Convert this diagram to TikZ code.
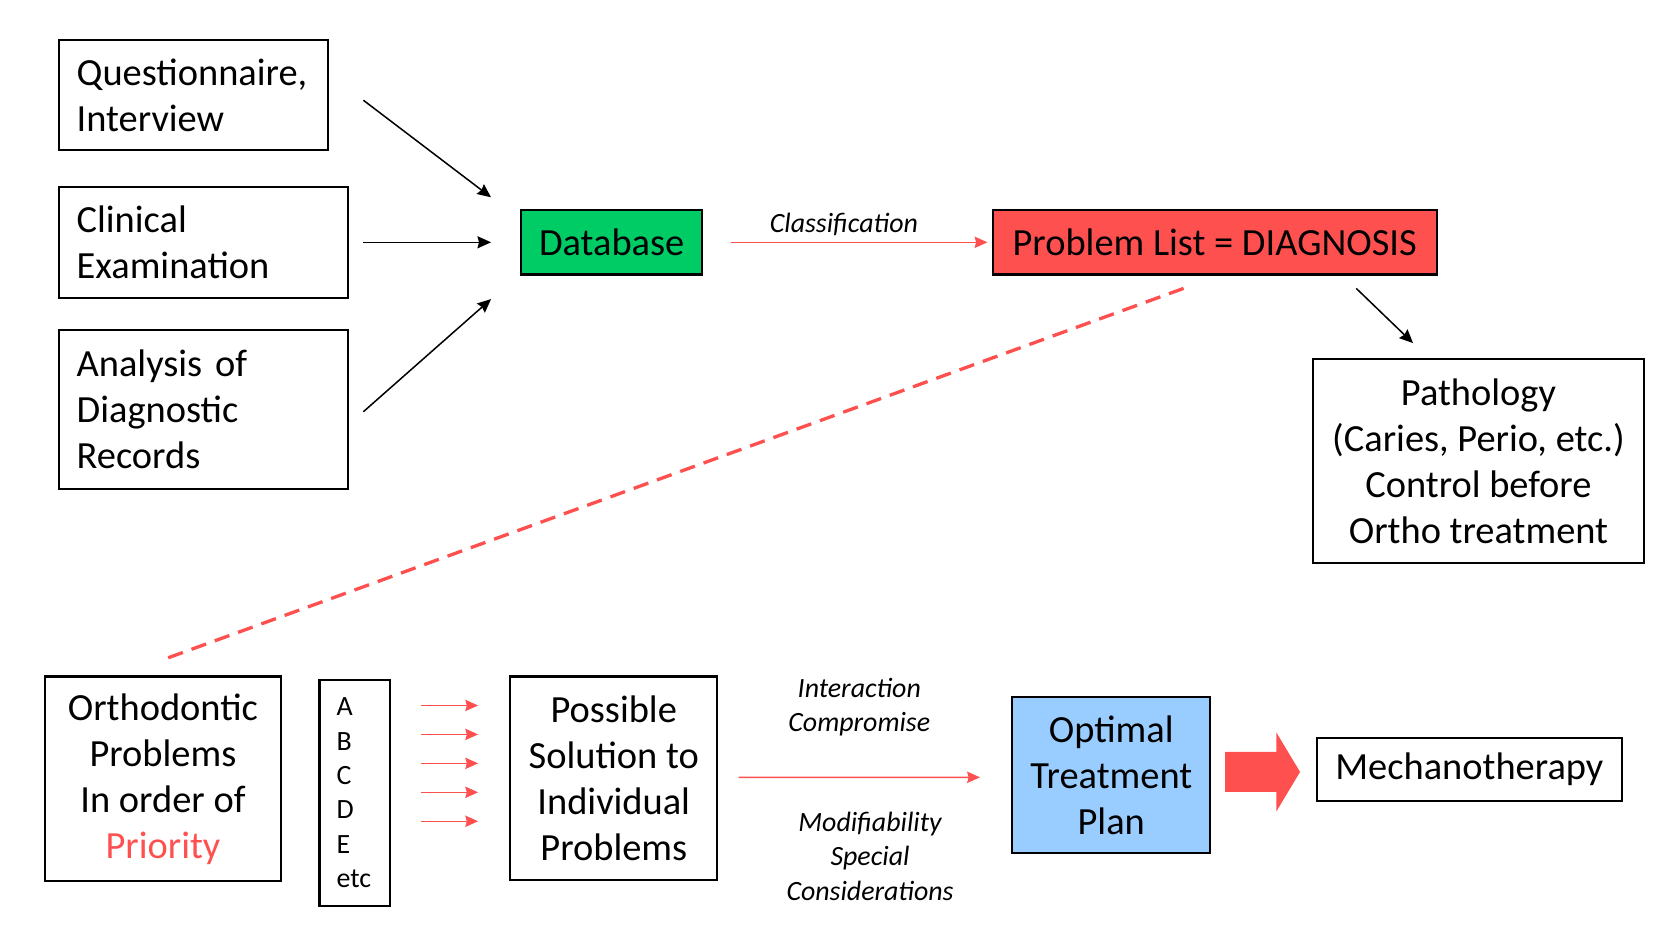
\documentclass[tikz,border=0pt]{standalone}
\usepackage{fontspec}
\setmainfont{Carlito}
\usetikzlibrary{shapes.arrows, arrows.meta}
\definecolor{dbgreen}{RGB}{0,204,102}
\definecolor{listred}{RGB}{255,80,80}
\definecolor{planblue}{RGB}{153,204,255}
\tikzstyle{leftbox} = [rectangle, draw=black, line width=0.55pt, align=left, inner xsep=0.165cm, font=\fontsize{10.2}{12.2}\selectfont]
\tikzstyle{midbox} = [rectangle, draw=black, line width=0.55pt, align=center, inner sep=0.05cm, font=\fontsize{10.2}{12.2}\selectfont]
\tikzstyle{letters} = [rectangle, draw=black, line width=0.55pt, align=left, text width=0.34cm, inner xsep=0.16cm, inner ysep=0.05cm, font=\fontsize{7.4}{9.1}\selectfont]
\tikzstyle{note} = [align=center, font=\fontsize{7.4}{9.1}\selectfont\itshape]
\tikzstyle{bigarrow} = [single arrow, fill=listred, draw=none, inner xsep=0pt, inner ysep=0.18cm, minimum height=0.70cm, single arrow head extend=0.18cm, single arrow tip angle=118]
\tikzstyle{arrow} = [-{Stealth[length=3.6pt, width=3.2pt, inset=0.4pt]}, line width=0.4pt]
\tikzstyle{redarrow} = [-{Stealth[length=3.4pt, width=3pt, inset=0.4pt]}, line width=0.4pt, draw=listred, fill=listred]

\begin{document}
\begin{tikzpicture}[node distance=2cm]
\useasboundingbox (0,0) rectangle (15.67,-8.85);

\node (quest) [leftbox, text width=2.18cm, minimum height=1.03cm] at (1.805,-0.885) {Questionnaire,\\Interview};
\node (clin) [leftbox, below of=quest, xshift=0.095cm, yshift=0.625cm, text width=2.37cm, minimum height=1.04cm] {Clinical\\Examination};
\node (anal) [leftbox, below of=clin, yshift=0.44cm, text width=2.37cm, minimum height=1.48cm] {Analysis of\\Diagnostic\\Records};

\node (db) [midbox, right of=clin, xshift=1.805cm, fill=dbgreen, minimum width=1.69cm, minimum height=0.60cm] {Database};
\node (plist) [midbox, right of=db, xshift=3.625cm, fill=listred, minimum width=4.14cm, minimum height=0.60cm] {Problem List = DIAGNOSIS};
\node (patho) [midbox, below of=plist, xshift=2.46cm, yshift=-0.04cm, minimum width=3.08cm, minimum height=1.90cm] {Pathology\\(Caries, Perio, etc.)\\Control before\\Ortho treatment};

\node (ortho) [midbox, below of=anal, xshift=-0.38cm, yshift=-1.445cm, minimum width=2.20cm, minimum height=1.91cm] {Orthodontic\\Problems\\In order of\\{\color{listred}Priority}};
\node (abc) [letters, right of=ortho, xshift=-0.21cm, yshift=-0.13cm, minimum height=2.11cm] {A\\B\\C\\D\\E\\etc};
\node (poss) [midbox, right of=abc, xshift=0.415cm, yshift=0.135cm, minimum width=1.93cm, minimum height=1.90cm] {Possible\\Solution to\\Individual\\Problems};
\node (opt) [midbox, right of=poss, xshift=2.64cm, yshift=0.03cm, fill=planblue, minimum width=1.85cm, minimum height=1.46cm] {Optimal\\Treatment\\Plan};
\node (bigarr) [bigarrow, right of=opt, xshift=-0.645cm, yshift=0.03cm] {};
\node (mech) [midbox, right of=bigarr, xshift=-0.015cm, yshift=0.025cm, minimum width=2.85cm, minimum height=0.59cm] {Mechanotherapy};

% inputs into the database
\draw [arrow] ([xshift=0.32cm, yshift=-0.05cm]quest.east) -- ([xshift=-0.27cm, yshift=0.11cm]db.north west);
\draw [arrow] ([xshift=0.13cm]clin.east) -- ([xshift=-0.27cm]db.west);
\draw [arrow] ([xshift=0.13cm, yshift=-0.02cm]anal.east) -- ([xshift=-0.27cm, yshift=-0.22cm]db.south west);

\draw [redarrow] ([xshift=0.26cm]db.east) -- node[note, above, pos=0.44, yshift=-0.06cm, text=black] {Classification} ([xshift=-0.04cm]plist.west);
\draw [arrow] ([xshift=1.32cm, yshift=-0.12cm]plist.south) -- ([xshift=-0.61cm, yshift=0.14cm]patho.north);
\draw [listred, line width=0.88pt, dash pattern=on 0.145cm off 0.086cm] ([xshift=-0.29cm, yshift=-0.12cm]plist.south) -- ([xshift=-0.02cm, yshift=0.14cm]ortho.north);

% one arrow per problem
\foreach \dy in {0.815,0.545,0.275,0.005,-0.265}
  \draw [redarrow] ([xshift=0.28cm, yshift=\dy cm]abc.east) -- ([xshift=0.81cm, yshift=\dy cm]abc.east);

\draw [redarrow] ([xshift=0.19cm, yshift=0.01cm]poss.east) -- node[note, above=0.26cm, text=black] {Interaction\\Compromise} node[note, below=0.2cm, xshift=0.1cm, text=black] {Modifiability\\Special\\Considerations} ([xshift=-0.29cm, yshift=-0.02cm]opt.west);

\end{tikzpicture}
\end{document}
